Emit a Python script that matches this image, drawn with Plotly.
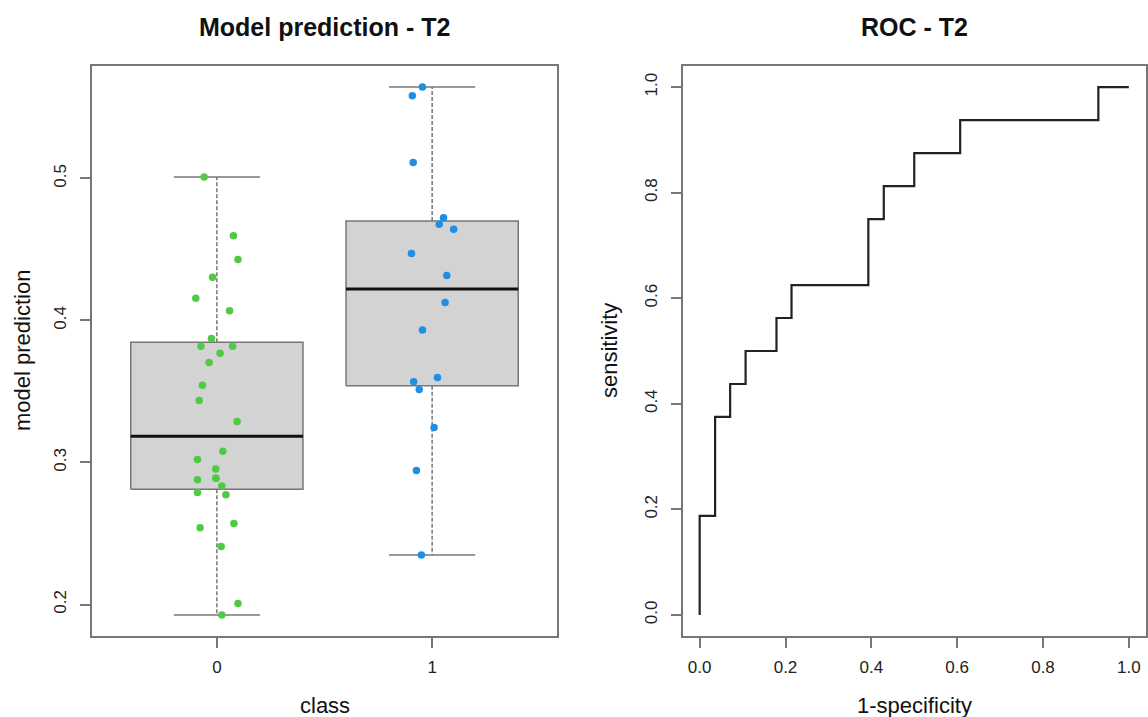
import math
import plotly.graph_objects as go

# ---------------- data ----------------
classes = ["0", "1"]
class_pos = [0, 1]

class0_pred = [0.501, 0.4596, 0.443, 0.4305, 0.4157, 0.4068, 0.3873, 0.3819, 0.3819,
               0.377, 0.3704, 0.3544, 0.3437, 0.3289, 0.308, 0.3021, 0.2955, 0.2889,
               0.2889, 0.2878, 0.2835, 0.2789, 0.2772, 0.257, 0.254, 0.2408, 0.2008, 0.1927]
class0_jitter = [-0.059, 0.077, 0.098, -0.020, -0.098, 0.059, -0.025, -0.074, 0.073,
                 0.015, -0.036, -0.067, -0.082, 0.094, 0.028, -0.090, -0.005, -0.005,
                 -0.004, -0.090, 0.023, -0.090, 0.042, 0.079, -0.078, 0.020, 0.098, 0.023]

class1_pred = [0.5643, 0.5582, 0.5113, 0.4723, 0.4678, 0.4643, 0.4472, 0.4317, 0.4127,
               0.3932, 0.3599, 0.3568, 0.3514, 0.3246, 0.2944, 0.2349]
class1_jitter = [-0.045, -0.092, -0.088, 0.053, 0.033, 0.100, -0.096, 0.068, 0.060,
                 -0.045, 0.025, -0.086, -0.060, 0.009, -0.073, -0.050]

roc_fpr = [0.0, 0.0, 0.036, 0.071, 0.107, 0.179, 0.214, 0.393, 0.429, 0.5, 0.607, 0.929, 1.0]
roc_tpr = [0.0, 0.1875, 0.375, 0.4375, 0.5, 0.5625, 0.625, 0.75, 0.8125, 0.875, 0.9375, 1.0, 1.0]

roc_ticks = [0.0, 0.2, 0.4, 0.6, 0.8, 1.0]
pred_ticks = [0.2, 0.3, 0.4, 0.5]

GREEN = "#4fca45"
BLUE = "#1f8fe6"
GRAY = "#777777"
FONT = "Liberation Sans, Arial, Helvetica, sans-serif"

W, H = 1148, 717


def px(x):
    return x / W


def py(y):
    return 1 - y / H


def fivenum(v):
    s = sorted(v)
    n = len(s)
    n4 = math.floor((n + 3) / 2) / 2
    d = [1, n4, (n + 1) / 2, n + 1 - n4, n]
    return [0.5 * (s[math.floor(di - 1)] + s[math.ceil(di - 1)]) for di in d]


fig = go.Figure()

all_vals = class0_pred + class1_pred
for pos, vals, jit, col in [(class_pos[0], class0_pred, class0_jitter, GREEN),
                            (class_pos[1], class1_pred, class1_jitter, BLUE)]:
    mn, q1, med, q3, mx = fivenum(vals)
    iqr = q3 - q1
    lo = min(x for x in vals if x >= q1 - 1.5 * iqr)
    hi = max(x for x in vals if x <= q3 + 1.5 * iqr)
    bw, cw = 0.4, 0.2
    # whiskers (dashed)
    fig.add_trace(go.Scatter(x=[pos, pos, None, pos, pos], y=[q3, hi, None, q1, lo],
                             mode="lines", line=dict(color=GRAY, width=1.5, dash="4px,2px"),
                             xaxis="x", yaxis="y", showlegend=False, hoverinfo="skip"))
    # caps
    fig.add_trace(go.Scatter(x=[pos - cw, pos + cw, None, pos - cw, pos + cw],
                             y=[hi, hi, None, lo, lo],
                             mode="lines", line=dict(color=GRAY, width=1.5),
                             xaxis="x", yaxis="y", showlegend=False, hoverinfo="skip"))
    # box
    fig.add_trace(go.Scatter(x=[pos - bw, pos + bw, pos + bw, pos - bw, pos - bw],
                             y=[q1, q1, q3, q3, q1], mode="lines", fill="toself",
                             fillcolor="#d3d3d3", line=dict(color=GRAY, width=1.5),
                             xaxis="x", yaxis="y", showlegend=False, hoverinfo="skip"))
    # median
    fig.add_trace(go.Scatter(x=[pos - bw, pos + bw], y=[med, med], mode="lines",
                             line=dict(color="#111111", width=3),
                             xaxis="x", yaxis="y", showlegend=False, hoverinfo="skip"))
    # points
    fig.add_trace(go.Scatter(x=[pos + j for j in jit], y=vals, mode="markers",
                             marker=dict(color=col, size=7.5, line=dict(width=0)),
                             xaxis="x", yaxis="y", showlegend=False))

# ROC curve
fig.add_trace(go.Scatter(x=roc_fpr, y=roc_tpr, mode="lines",
                         line=dict(color="#222222", width=2.2, shape="hv"),
                         xaxis="x2", yaxis="y2", showlegend=False))

vmin, vmax = min(all_vals), max(all_vals)
pad = 0.04 * (vmax - vmin)

ydom = [py(636), py(66)]
axis_common = dict(showline=True, mirror=True, linecolor=GRAY, linewidth=1.5, showgrid=False,
                   zeroline=False, ticks="outside", ticklen=10, tickcolor=GRAY, tickwidth=1.5,
                   tickfont=dict(family=FONT, size=17, color="#222222"))

fig.update_layout(
    width=W, height=H,
    margin=dict(l=0, r=0, t=0, b=0),
    paper_bgcolor="white", plot_bgcolor="white",
    xaxis=dict(domain=[px(92), px(557)], range=[-0.58, 1.58], tickvals=class_pos, ticktext=classes,
               ticklabelstandoff=5, **axis_common),
    yaxis=dict(domain=ydom, range=[vmin - pad, vmax + pad], tickvals=pred_ticks,
               ticktext=[f"{t:.1f}" for t in pred_ticks], tickangle=-90, ticklabelstandoff=7,
               **axis_common),
    xaxis2=dict(domain=[px(682.5), px(1146)], range=[-0.04, 1.04], tickvals=roc_ticks,
                ticktext=[f"{t:.1f}" for t in roc_ticks], ticklabelstandoff=5, anchor="y2",
                **axis_common),
    yaxis2=dict(domain=ydom, range=[-0.04, 1.04], tickvals=roc_ticks,
                ticktext=[f"{t:.1f}" for t in roc_ticks], tickangle=-90, ticklabelstandoff=7,
                anchor="x2", **axis_common),
)


def ann(text, x, y, size, bold=False, angle=0):
    fig.add_annotation(text=f"<b>{text}</b>" if bold else text, x=px(x), y=py(y),
                       xref="paper", yref="paper", showarrow=False, textangle=angle,
                       xanchor="center", yanchor="middle",
                       font=dict(family=FONT, size=size, color="#111111"))


ann("Model prediction - T2", 324.5, 27, 25, bold=True)
ann("ROC - T2", 914.75, 27, 25, bold=True)
ann("class", 324.5, 705, 22)
ann("1-specificity", 914.75, 705, 22)
ann("model prediction", 22, 351, 22, angle=-90)
ann("sensitivity", 609, 351, 22, angle=-90)

fig.write_html(
    "out.html",
    config={"displayModeBar": False},
    post_script="document.body.style.margin='0';document.body.style.overflow='hidden';",
)
